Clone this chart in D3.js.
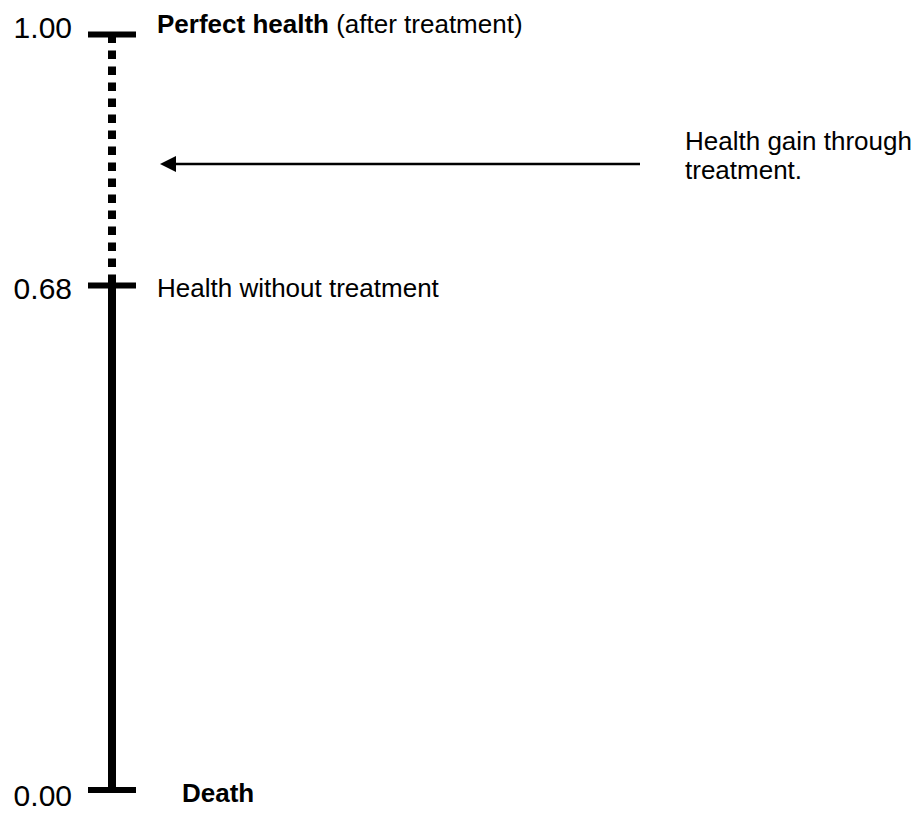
<!DOCTYPE html>
<html>
<head>
<meta charset="utf-8">
<script src="https://cdn.jsdelivr.net/npm/d3@7"></script>
<style>
  html, body { margin: 0; padding: 0; background: #fff; }
  svg { display: block; }
  text { font-family: Arial, "Liberation Sans", sans-serif; fill: #000; }
</style>
</head>
<body>
<script>
// Chart values
const tickValues = [1.00, 0.68, 0.00];
const tickLabels = ["1.00", "0.68", "0.00"];
const stateBold = ["Perfect health", "", "Death"];
const stateRest = [" (after treatment)", "Health without treatment", ""];
const gainValue = 0.835;          // where the arrow points
const gainText = ["Health gain through", "treatment."];

const width = 922;
const height = 813;

const svg = d3.select("body").append("svg")
    .attr("width", width)
    .attr("height", height)
    .attr("viewBox", [0, 0, width, height]);

// Diagram is not drawn to scale, so use a piecewise linear scale through the ticks
const y = d3.scaleLinear()
    .domain([0, 0.68, 1])
    .range([790, 285.5, 34.5]);

const axisX = 112;
const tickHalf = 24;

// dotted part: health gain
svg.append("line")
    .attr("x1", axisX).attr("x2", axisX)
    .attr("y1", y(1)).attr("y2", y(0.68))
    .attr("stroke", "#000")
    .attr("stroke-width", 8)
    .attr("stroke-dasharray", "8.5,7.5");

// solid part: health without treatment
svg.append("line")
    .attr("x1", axisX).attr("x2", axisX)
    .attr("y1", y(0.68)).attr("y2", y(0))
    .attr("stroke", "#000")
    .attr("stroke-width", 8);

// ticks
svg.selectAll(".tick")
    .data(tickValues)
    .enter().append("line")
    .attr("class", "tick")
    .attr("x1", axisX - tickHalf).attr("x2", axisX + tickHalf)
    .attr("y1", d => y(d)).attr("y2", d => y(d))
    .attr("stroke", "#000")
    .attr("stroke-width", 6);

// tick labels (hand placed offsets, like the original drawing)
const tickDy = [3.5, 13.5, 16];
svg.selectAll(".tlabel")
    .data(tickValues)
    .enter().append("text")
    .attr("class", "tlabel")
    .attr("x", 72)
    .attr("y", (d, i) => y(d) + tickDy[i])
    .attr("text-anchor", "end")
    .attr("font-size", 30)
    .text((d, i) => tickLabels[i]);

// state labels
const labelX = [157, 157, 182];
const labelDy = [-1.5, 11.5, 12];
const labels = svg.selectAll(".slabel")
    .data(tickValues)
    .enter().append("text")
    .attr("class", "slabel")
    .attr("x", (d, i) => labelX[i])
    .attr("y", (d, i) => y(d) + labelDy[i])
    .attr("font-size", 26);
labels.append("tspan")
    .attr("font-weight", "bold")
    .text((d, i) => stateBold[i]);
labels.append("tspan")
    .text((d, i) => stateRest[i]);

// arrow
const ay = y(gainValue);
const tipX = 160;
svg.append("line")
    .attr("x1", 640).attr("x2", tipX + 14)
    .attr("y1", ay).attr("y2", ay)
    .attr("stroke", "#000")
    .attr("stroke-width", 2.5);
svg.append("path")
    .attr("d", `M${tipX},${ay} L${tipX + 16},${ay - 8} L${tipX + 16},${ay + 8} Z`)
    .attr("fill", "#000");

// annotation
svg.append("text")
    .attr("x", 685)
    .attr("y", ay - 14)
    .attr("font-size", 26)
    .selectAll("tspan")
    .data(gainText)
    .enter().append("tspan")
    .attr("x", 685)
    .attr("dy", (d, i) => i === 0 ? 0 : 29.5)
    .text(d => d);
</script>
</body>
</html>
